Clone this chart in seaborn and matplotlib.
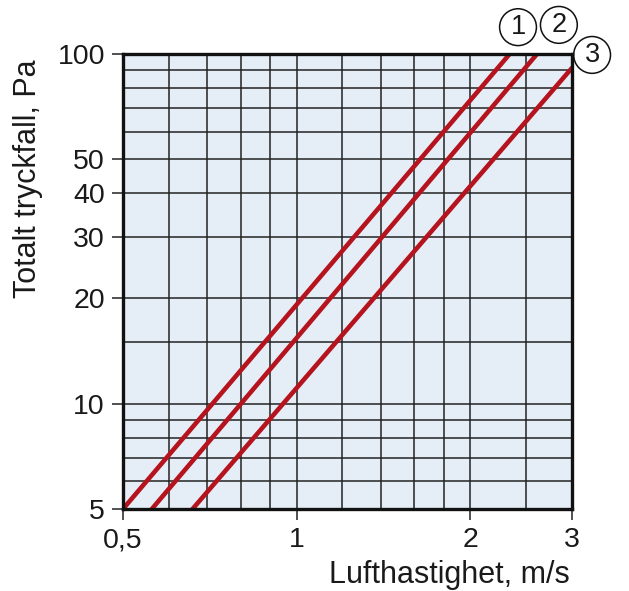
import pandas as pd
import seaborn as sns
import matplotlib.pyplot as plt
from matplotlib.ticker import FixedLocator, NullLocator, FixedFormatter

# curves (air speed m/s, total pressure drop Pa)
curve_names = ["1", "2", "3"]
speed_1 = [0.5, 2.34]
drop_1 = [5, 100]
speed_2 = [0.561, 2.61]
drop_2 = [5, 100]
speed_3 = [0.66, 3.0]
drop_3 = [5, 91.2]

x_ticks = [0.5, 1, 2, 3]
x_labels = ["0,5", "1", "2", "3"]
y_ticks = [5, 10, 20, 30, 40, 50, 100]
y_labels = ["5", "10", "20", "30", "40", "50", "100"]
x_grid = [0.6, 0.7, 0.8, 0.9, 1, 1.2, 1.4, 1.6, 1.8, 2, 2.5]
y_grid = [6, 7, 8, 9, 10, 15, 20, 30, 40, 50, 60, 70, 80, 90]

df = pd.concat([
    pd.DataFrame({"v": speed_1, "p": drop_1, "curve": "1"}),
    pd.DataFrame({"v": speed_2, "p": drop_2, "curve": "2"}),
    pd.DataFrame({"v": speed_3, "p": drop_3, "curve": "3"}),
])

sns.set_style("white")
plt.rcParams["font.family"] = ["Liberation Sans", "DejaVu Sans"]

fig = plt.figure(figsize=(6.29, 5.91), dpi=100)
ax = fig.add_axes([0.1955, 0.1387, 0.7137, 0.7699])
ax.set_facecolor("#e5eef6")

ax.set_xscale("log")
ax.set_yscale("log")
ax.set_xlim(0.5, 3)
ax.set_ylim(5, 100)

for g in x_grid:
    ax.axvline(g, color="#222222", lw=1.1, zorder=1)
for g in y_grid:
    ax.axhline(g, color="#222222", lw=1.1, zorder=1)

sns.lineplot(data=df, x="v", y="p", hue="curve", palette=["#b5141e"] * 3,
             linewidth=3.3, legend=False, ax=ax, zorder=3)

ax.xaxis.set_major_locator(FixedLocator(x_ticks))
ax.xaxis.set_major_formatter(FixedFormatter(x_labels))
ax.xaxis.set_minor_locator(NullLocator())
ax.yaxis.set_major_locator(FixedLocator(y_ticks))
ax.yaxis.set_major_formatter(FixedFormatter(y_labels))
ax.yaxis.set_minor_locator(NullLocator())
ax.tick_params(axis="both", which="major", direction="out", length=8, width=1.1,
               color="#222222", labelsize=20.5, pad=5, bottom=True, left=True,
               labelcolor="#1a1a1a")

for s in ax.spines.values():
    s.set_linewidth(2.4)
    s.set_color("#111111")
    s.set_zorder(5)

ax.set_xlabel("")
ax.set_ylabel("")
ax.text(0.728, -0.145, "Lufthastighet, m/s", transform=ax.transAxes,
        ha="center", va="center", fontsize=22, color="#1a1a1a")
ax.text(-0.212, 0.725, "Totalt tryckfall, Pa", transform=ax.transAxes,
        ha="center", va="center", rotation=90, fontsize=22, color="#1a1a1a")

label_pos = [(0.88, 1.059), (0.971, 1.064), (1.045, 0.998)]
for name, (lx, ly) in zip(curve_names, label_pos):
    ax.text(lx, ly, name, transform=ax.transAxes, ha="center", va="center",
            fontsize=19.5, clip_on=False, color="#1a1a1a",
            bbox=dict(boxstyle="circle,pad=0.2", fc="white", ec="#111111", lw=1.1))

fig.savefig("out.png", dpi=100)
